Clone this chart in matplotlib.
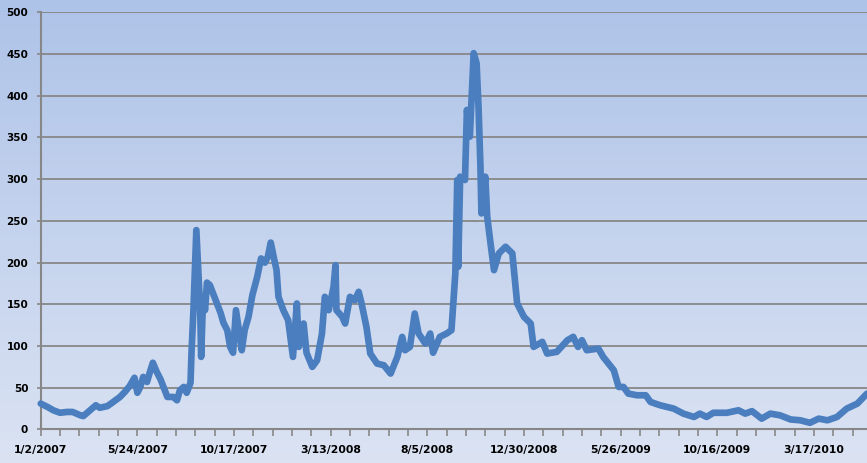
import numpy as np
import matplotlib.pyplot as plt

# trading-day index (from 1/2/2007) and daily value
day = [0, 7, 13, 20, 27, 33, 41, 44, 48, 54, 57, 61, 69, 75, 82, 87, 92, 97, 100, 103,
       106, 110, 113, 116, 120, 124, 127, 131, 137, 141, 144, 148, 151, 155, 156, 158, 161, 163, 165, 166,
       168, 170, 172, 175, 178, 182, 186, 189, 193, 196, 199, 202, 205, 208, 211, 215, 219, 224, 228, 232,
       235, 238, 241, 244, 246, 251, 256, 260, 261, 265, 267, 272, 275, 281, 286, 291, 294, 298, 303, 305,
       306, 312, 315, 320, 325, 329, 332, 337, 341, 348, 355, 362, 369, 374, 377, 382, 387, 391, 398, 403,
       406, 413, 420, 425, 429, 431, 432, 434, 439, 441, 444, 448, 451, 453, 455, 456, 460, 462, 465, 469,
       474, 481, 488, 493, 500, 507, 510, 519, 524, 534, 545, 551, 556, 560, 565, 577, 582, 593, 598, 603,
       608, 617, 626, 631, 641, 655, 665, 676, 682, 689, 696, 710, 722, 729, 736, 746, 755, 765, 776, 786,
       796, 805, 814, 824, 834, 845, 855]
value = [31, 27, 23, 20, 21, 21, 17, 16, 20, 26, 29, 26, 28, 33, 39, 45, 52, 62, 44, 51,
         63, 57, 69, 80, 69, 60, 51, 39, 39, 35, 47, 51, 44, 56, 92, 143, 239, 191, 143, 87,
         159, 143, 176, 173, 164, 152, 140, 128, 119, 99, 92, 143, 119, 95, 119, 135, 161, 183, 205, 200,
         207, 224, 207, 191, 159, 143, 131, 95, 87, 151, 99, 127, 92, 75, 83, 115, 159, 143, 171, 197,
         143, 135, 127, 159, 155, 165, 151, 123, 91, 79, 77, 67, 87, 111, 95, 99, 139, 115, 103, 115,
         92, 111, 115, 119, 187, 299, 195, 303, 299, 383, 351, 451, 439, 387, 315, 259, 303, 255, 227, 191,
         211, 219, 211, 151, 135, 127, 99, 105, 91, 93, 107, 111, 99, 107, 95, 97, 87, 71, 51, 51,
         43, 41, 41, 33, 29, 25, 19, 15, 19, 15, 20, 20, 23, 19, 22, 13, 19, 17, 12, 11,
         8, 13, 11, 15, 25, 31, 43]

label_days = [0, 100, 200, 300, 400, 500, 600, 700, 800]
label_text = ['1/2/2007', '5/24/2007', '10/17/2007', '3/13/2008', '8/5/2008',
              '12/30/2008', '5/26/2009', '10/16/2009', '3/17/2010']
y_ticks = [0, 50, 100, 150, 200, 250, 300, 350, 400, 450, 500]

fig = plt.figure(figsize=(8.67, 4.63), dpi=100)

# gradient background over the whole chart area
bg = fig.add_axes([0, 0, 1, 1], zorder=-1)
grad = np.linspace(0, 1, 256).reshape(-1, 1)
top = np.array([174, 195, 232]) / 255
bottom = np.array([219, 227, 243]) / 255
img = top + (bottom - top) * grad[:, :, None]
bg.imshow(img, aspect='auto', extent=[0, 1, 0, 1])
bg.axis('off')

ax = fig.add_axes([0.047, 0.0724, 0.953, 0.901])
ax.patch.set_alpha(0)

ax.plot(day, value, color='#4A7EBF', lw=4.8, solid_joinstyle='round',
        solid_capstyle='round', zorder=3, clip_on=False)

ax.set_xlim(0, 855)
ax.set_ylim(0, 500)
ax.set_yticks(y_ticks)
ax.set_xticks(label_days)
ax.set_xticklabels(label_text)
ax.set_xticks(np.arange(0, 856, 20), minor=True)

ax.grid(axis='y', color='#878787', lw=1.3, zorder=1)
for s in ['top', 'right']:
    ax.spines[s].set_visible(False)
for s in ['left', 'bottom']:
    ax.spines[s].set_color('#878787')
    ax.spines[s].set_linewidth(1.5)

ax.tick_params(axis='x', which='both', length=5, width=1.2, color='#878787',
               direction='out', pad=6)
ax.tick_params(axis='y', length=3, width=1.2, color='#878787', direction='out', pad=6)
for lbl in ax.get_xticklabels():
    lbl.set_fontsize(7.8)
    lbl.set_fontweight('bold')
for lbl in ax.get_yticklabels():
    lbl.set_fontsize(7.5)
    lbl.set_fontweight('bold')

fig.savefig('out.png', dpi=100)
